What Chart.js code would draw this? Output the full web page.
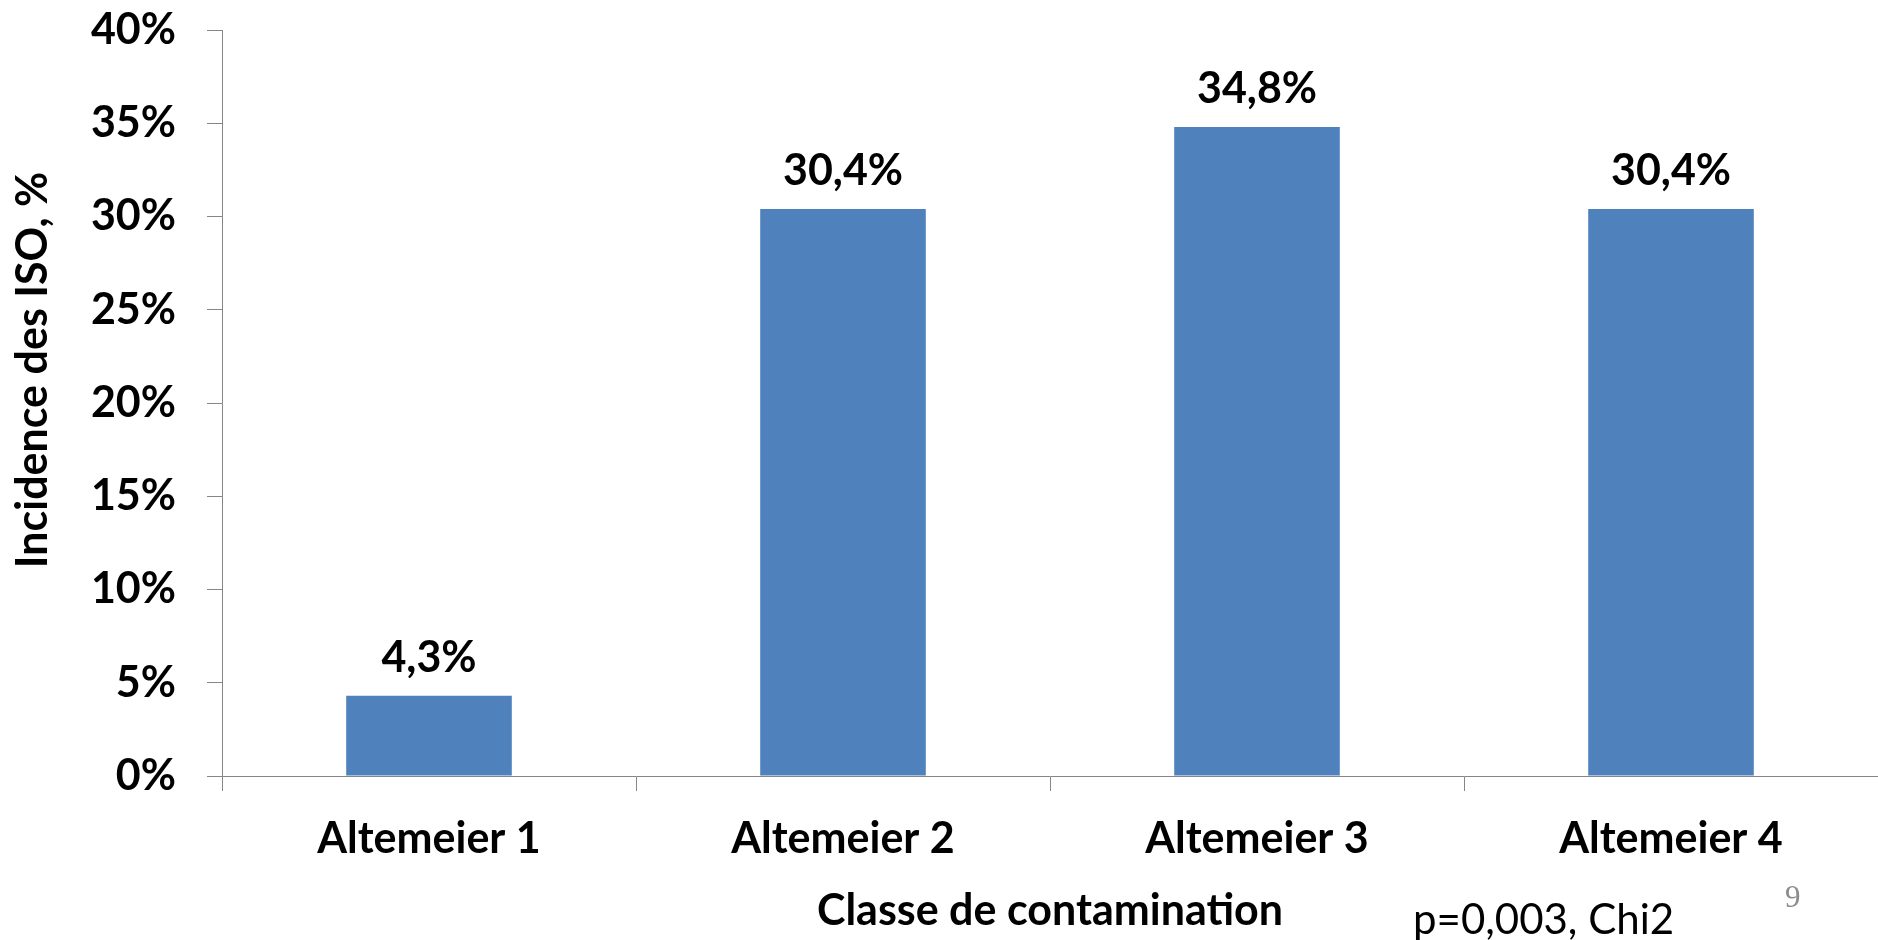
<!DOCTYPE html>
<html>
<head>
<meta charset="utf-8">
<script src="https://cdn.jsdelivr.net/npm/chart.js@4/dist/chart.umd.min.js"></script>
<style>
  html, body { margin: 0; padding: 0; background: #ffffff; }
  #wrap { width: 1878px; height: 940px; position: relative; }
</style>
</head>
<body>
<div id="wrap"><canvas id="c" width="1878" height="940"></canvas></div>
<script>
const categories = ["Altemeier 1", "Altemeier 2", "Altemeier 3", "Altemeier 4"];
const incidence = [4.3, 30.4, 34.8, 30.4];
const yTickValues = [0, 5, 10, 15, 20, 25, 30, 35, 40];
const yTitle = "Incidence des ISO, %";
const xTitle = "Classe de contamination";
const noteText = "p=0,003, Chi2";
const pageNumber = "9";

const FONT = "Lato, 'Open Sans', sans-serif";
const AXIS_COLOR = "#868686";

const fmtPct = v => v.toFixed(1).replace(".", ",") + "%";

const extraText = {
  id: "extraText",
  afterDatasetsDraw(chart) {
    const ctx = chart.ctx;
    ctx.save();
    // value labels above bars
    const meta = chart.getDatasetMeta(0);
    ctx.font = "bold 43px " + FONT;
    ctx.fillStyle = "#000";
    ctx.textAlign = "center";
    ctx.textBaseline = "alphabetic";
    meta.data.forEach((bar, i) => {
      ctx.fillText(fmtPct(incidence[i]), bar.x, bar.y - 24);
    });
    // y axis title
    ctx.save();
    ctx.translate(33, 370);
    ctx.rotate(-Math.PI / 2);
    ctx.textBaseline = "middle";
    ctx.fillText(yTitle, 0, 0);
    ctx.restore();
    // note
    ctx.font = "42px " + FONT;
    ctx.textAlign = "left";
    ctx.fillText(noteText, 1413, 934);
    // page number
    ctx.font = "31px 'Liberation Serif', serif";
    ctx.fillStyle = "#8c8c8c";
    ctx.fillText(pageNumber, 1785, 907);
    ctx.restore();
  }
};

new Chart(document.getElementById("c"), {
  type: "bar",
  data: {
    labels: categories,
    datasets: [{
      data: incidence,
      backgroundColor: "#4F81BD",
      borderWidth: 0,
      categoryPercentage: 1.0,
      barPercentage: 0.4
    }]
  },
  options: {
    responsive: false,
    animation: false,
    devicePixelRatio: 1,
    layout: { padding: { top: 30, right: 0, left: 0, bottom: 0 } },
    plugins: { legend: { display: false }, tooltip: { enabled: false } },
    scales: {
      x: {
        afterFit(s) { s.height = 164; s.paddingLeft = 0; s.paddingRight = 0; },
        grid: {
          offset: true,
          drawOnChartArea: false,
          drawTicks: true,
          tickLength: 15,
          color: AXIS_COLOR,
          lineWidth: 1
        },
        border: { color: AXIS_COLOR, width: 1 },
        ticks: {
          color: "#000",
          font: { family: FONT, size: 43, weight: "bold" },
          padding: 22,
          maxRotation: 0
        },
        title: {
          display: true,
          text: xTitle,
          color: "#000",
          font: { family: FONT, size: 43, weight: "bold" },
          padding: { top: 0, bottom: 3 }
        }
      },
      y: {
        afterFit(s) { s.width = 222; s.paddingTop = 0; s.paddingBottom = 0; },
        min: 0,
        max: 40,
        afterBuildTicks(s) { s.ticks = yTickValues.map(v => ({ value: v })); },
        grid: {
          drawOnChartArea: false,
          drawTicks: true,
          tickLength: 15,
          color: AXIS_COLOR,
          lineWidth: 1
        },
        border: { color: AXIS_COLOR, width: 1 },
        ticks: {
          color: "#000",
          font: { family: FONT, size: 43, weight: "bold" },
          padding: 31,
          callback: v => v + "%"
        }
      }
    }
  },
  plugins: [extraText]
});
</script>
</body>
</html>
